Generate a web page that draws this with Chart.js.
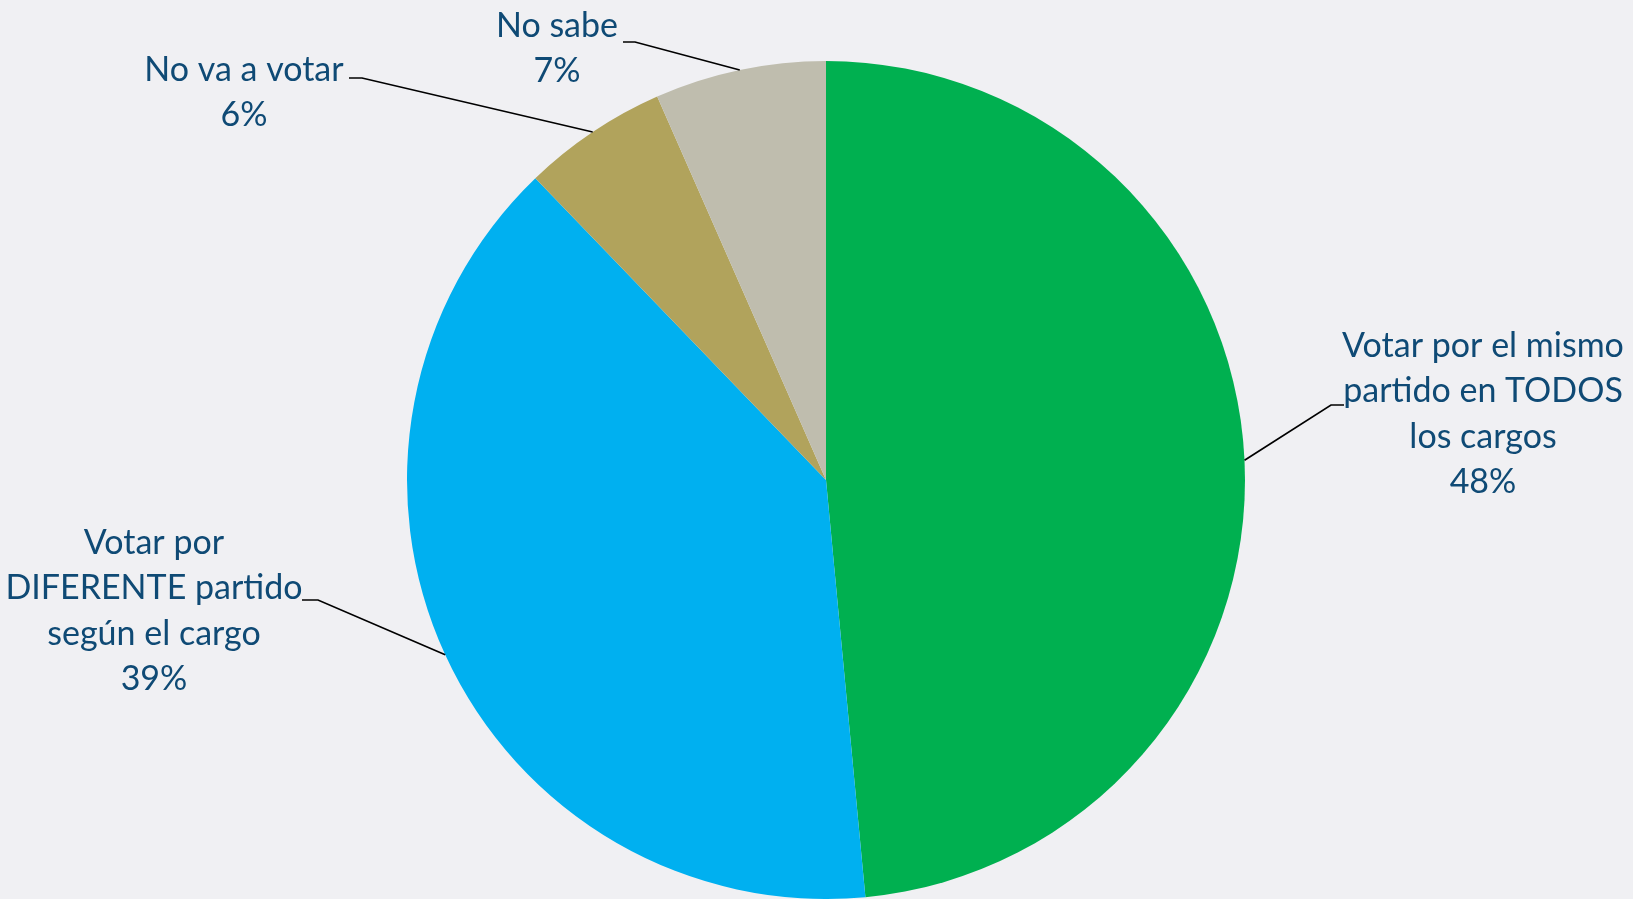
<!DOCTYPE html>
<html>
<head>
<meta charset="utf-8">
<script src="https://cdn.jsdelivr.net/npm/chart.js@4.4.1/dist/chart.umd.min.js"></script>
<style>
  html, body { margin: 0; padding: 0; background: #f0f0f3; }
  #wrap { width: 1633px; height: 899px; position: relative; }
</style>
</head>
<body>
<div id="wrap"><canvas id="pie"></canvas></div>
<script>
// ----- data -----
const categories = [
  ['Votar por el mismo', 'partido en TODOS', 'los cargos'],
  ['Votar por', 'DIFERENTE partido', 'según el cargo'],
  ['No va a votar'],
  ['No sabe']
];
const shares = [48.5, 39.3, 5.6, 6.6];          // slice sizes
const pctLabels = ['48%', '39%', '6%', '7%'];   // printed percentages
const colors = ['#00b050', '#00b0f0', '#b1a35c', '#bfbdae'];

// label placement: text centre x, first line centre y, elbow point, horizontal stub end
const labelPos = [
  { x: 1483, y: 346, ex: 1331, ey: 405, sx: 1344 },
  { x: 154,  y: 543, ex: 318,  ey: 600, sx: 302 },
  { x: 244,  y: 70,  ex: 362,  ey: 78,  sx: 349 },
  { x: 557,  y: 26,  ex: 635,  ey: 42,  sx: 623 }
];

const FONT = '34px Lato, "Open Sans", sans-serif';
const TEXT_COLOR = '#0f4a75';
const LINE_H = 45.5;

// leader lines + labels drawn after the arcs
const calloutPlugin = {
  id: 'callouts',
  afterDatasetsDraw(chart) {
    const ctx = chart.ctx;
    const meta = chart.getDatasetMeta(0);
    ctx.save();
    meta.data.forEach((arc, i) => {
      const p = labelPos[i];
      const mid = (arc.startAngle + arc.endAngle) / 2;
      const ax = arc.x + Math.cos(mid) * arc.outerRadius;
      const ay = arc.y + Math.sin(mid) * arc.outerRadius;

      ctx.strokeStyle = '#000';
      ctx.lineWidth = 1.7;
      ctx.beginPath();
      ctx.moveTo(ax, ay);
      ctx.lineTo(p.ex, p.ey);
      ctx.lineTo(p.sx, p.ey);
      ctx.stroke();

      ctx.fillStyle = TEXT_COLOR;
      ctx.font = FONT;
      ctx.textAlign = 'center';
      ctx.textBaseline = 'middle';
      const lines = categories[i].concat([pctLabels[i]]);
      lines.forEach((t, k) => ctx.fillText(t, p.x, p.y + k * LINE_H));
    });
    ctx.restore();
  }
};

new Chart(document.getElementById('pie'), {
  type: 'pie',
  data: {
    labels: categories.map(c => c.join(' ')),
    datasets: [{
      data: shares,
      backgroundColor: colors,
      borderWidth: 0
    }]
  },
  options: {
    responsive: true,
    maintainAspectRatio: false,
    animation: false,
    rotation: 0,
    layout: { padding: { top: 61, bottom: 0, left: 19, right: 0 } },
    plugins: {
      legend: { display: false },
      tooltip: { enabled: false }
    }
  },
  plugins: [calloutPlugin]
});
</script>
</body>
</html>
